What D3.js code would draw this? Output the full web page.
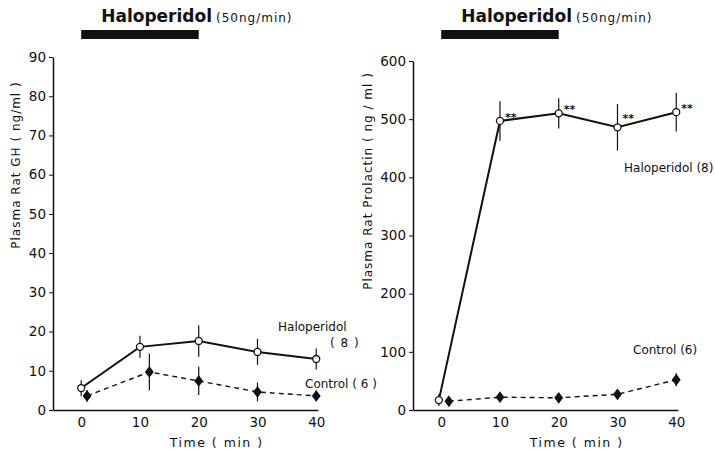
<!DOCTYPE html>
<html>
<head>
<meta charset="utf-8">
<script src="https://cdn.jsdelivr.net/npm/d3@7"></script>
<style>
  body { margin: 0; background: #fff; }
  text { font-family: "DejaVu Sans", sans-serif; fill: #111; }
</style>
</head>
<body>
<div id="chart"></div>
<script>
// time points (min)
var timeTicks = [0, 10, 20, 30, 40];

// GH panel
var ghHalTime = [0, 10, 20, 30, 40];
var ghHalVal = [5.6, 16.1, 17.6, 14.8, 13.0];
var ghHalErr = [2.0, 2.8, 4.0, 3.3, 2.7];
var ghCtlTime = [1, 11.6, 20, 30, 40];
var ghCtlVal = [3.6, 9.7, 7.4, 4.6, 3.6];
var ghCtlErr = [1.5, 4.7, 3.6, 2.4, 1.3];
var ghTicks = [0, 10, 20, 30, 40, 50, 60, 70, 80, 90];

// Prolactin panel
var prlHalTime = [-0.4, 10, 20, 30, 40];
var prlHalVal = [17, 497, 510, 486, 512];
var prlHalErr = [10, 34, 26, 40, 33];
var prlCtlTime = [1.3, 10, 20, 30, 40];
var prlCtlVal = [15, 22, 21, 27, 52];
var prlCtlErr = [5, 7, 7, 8, 11];
var prlTicks = [0, 100, 200, 300, 400, 500, 600];
var prlSig = [10, 20, 30, 40];

var svg = d3.select("#chart").append("svg")
  .attr("width", 715)
  .attr("height", 451);

function zip(t, v, e) {
  return t.map(function(d, i) { return { t: d, v: v[i], e: e[i] }; });
}

function drawPanel(opt) {
  var x = d3.scaleLinear().domain([-4.8, 40.3]).range([opt.left, opt.left + 265]);
  var y = d3.scaleLinear().domain([0, opt.ymax]).range([410, opt.top]);

  // axes
  svg.append("g")
    .attr("transform", "translate(0,410)")
    .call(d3.axisBottom(x).tickValues(timeTicks).tickSize(0).tickPadding(7).tickSizeOuter(0))
    .call(function(g) {
      g.select(".domain").attr("stroke", "#111").attr("stroke-width", 1.5);
      g.selectAll("text").style("font-size", "13.5px").attr("fill", "#111");
    });

  svg.append("g")
    .attr("transform", "translate(" + opt.left + ",0)")
    .call(d3.axisLeft(y).tickValues(opt.ticks).tickSize(4).tickPadding(3).tickSizeOuter(0))
    .call(function(g) {
      g.select(".domain").attr("stroke", "#111").attr("stroke-width", 1.5);
      g.selectAll("line").attr("stroke", "#111");
      g.selectAll("text").style("font-size", "13.5px").attr("fill", "#111");
    });

  // axis titles
  svg.append("text")
    .attr("transform", "translate(" + opt.ytitleX + "," + opt.ytitleY + ") rotate(-90)")
    .attr("text-anchor", "middle")
    .style("font-size", "12px")
    .style("letter-spacing", "1px")
    .text(opt.ytitle);

  svg.append("text")
    .attr("x", x(20) + 18)
    .attr("y", 447)
    .attr("text-anchor", "middle")
    .style("font-size", "12.5px")
    .style("letter-spacing", "1.5px")
    .text("Time ( min )");

  // infusion bar and title
  svg.append("rect")
    .attr("x", x(0))
    .attr("y", 30)
    .attr("width", x(20) - x(0))
    .attr("height", 9)
    .attr("fill", "#111");

  var title = svg.append("text")
    .attr("x", x(0) + 20)
    .attr("y", 22);
  title.append("tspan")
    .style("font-size", "17px")
    .style("font-weight", "bold")
    .text("Haloperidol");
  title.append("tspan")
    .attr("dx", 4)
    .style("font-size", "12px")
    .style("letter-spacing", "1px")
    .text("(50ng/min)");

  var hal = zip(opt.halTime, opt.halVal, opt.halErr);
  var ctl = zip(opt.ctlTime, opt.ctlVal, opt.ctlErr);

  var line = d3.line().x(function(d) { return x(d.t); }).y(function(d) { return y(d.v); });

  // error bars
  [hal, ctl].forEach(function(data) {
    svg.append("g").selectAll("line")
      .data(data)
      .enter()
      .append("line")
      .attr("x1", function(d) { return x(d.t); })
      .attr("x2", function(d) { return x(d.t); })
      .attr("y1", function(d) { return y(d.v + d.e); })
      .attr("y2", function(d) { return y(Math.max(0, d.v - d.e)); })
      .attr("stroke", "#111")
      .attr("stroke-width", 1.2);
  });

  svg.append("path")
    .datum(ctl)
    .attr("d", line)
    .attr("fill", "none")
    .attr("stroke", "#111")
    .attr("stroke-width", 1.4)
    .attr("stroke-dasharray", "5,4");

  svg.append("path")
    .datum(hal)
    .attr("d", line)
    .attr("fill", "none")
    .attr("stroke", "#111")
    .attr("stroke-width", 2);

  svg.append("g").selectAll("path")
    .data(ctl)
    .enter()
    .append("path")
    .attr("transform", function(d) { return "translate(" + x(d.t) + "," + y(d.v) + ") scale(1.3,1)"; })
    .attr("d", d3.symbol().type(d3.symbolDiamond).size(40))
    .attr("fill", "#111");

  svg.append("g").selectAll("circle")
    .data(hal)
    .enter()
    .append("circle")
    .attr("cx", function(d) { return x(d.t); })
    .attr("cy", function(d) { return y(d.v); })
    .attr("r", 3.5)
    .attr("fill", "#fff")
    .attr("stroke", "#111")
    .attr("stroke-width", 1.3);

  return { x: x, y: y };
}

// left panel: GH
var left = drawPanel({
  left: 53, top: 57, ymax: 90, ticks: ghTicks,
  ytitle: "Plasma Rat GH ( ng/ml )", ytitleX: 20, ytitleY: 165,
  halTime: ghHalTime, halVal: ghHalVal, halErr: ghHalErr,
  ctlTime: ghCtlTime, ctlVal: ghCtlVal, ctlErr: ghCtlErr
});

svg.append("text").attr("x", 278).attr("y", 331).style("font-size", "12px").text("Haloperidol");
svg.append("text").attr("x", 330).attr("y", 347).style("font-size", "12px").style("letter-spacing", "1px").text("( 8 )");
svg.append("text").attr("x", 305).attr("y", 388).style("font-size", "12px").text("Control ( 6 )");

// right panel: prolactin
var right = drawPanel({
  left: 413, top: 61, ymax: 600, ticks: prlTicks,
  ytitle: "Plasma Rat Prolactin ( ng / ml )", ytitleX: 372, ytitleY: 181,
  halTime: prlHalTime, halVal: prlHalVal, halErr: prlHalErr,
  ctlTime: prlCtlTime, ctlVal: prlCtlVal, ctlErr: prlCtlErr
});

// significance marks
svg.append("g").selectAll("text")
  .data(prlSig)
  .enter()
  .append("text")
  .attr("x", function(d) { return right.x(d) + 5; })
  .attr("y", function(d) {
    var v = prlHalVal[prlHalTime.indexOf(d)];
    return right.y(v) + (d === 30 ? -5 : 0);
  })
  .style("font-size", "11px")
  .style("font-weight", "bold")
  .text("**");

svg.append("text").attr("x", 624).attr("y", 172).style("font-size", "12px").text("Haloperidol (8)");
svg.append("text").attr("x", 633).attr("y", 354).style("font-size", "12px").text("Control (6)");
</script>
</body>
</html>
